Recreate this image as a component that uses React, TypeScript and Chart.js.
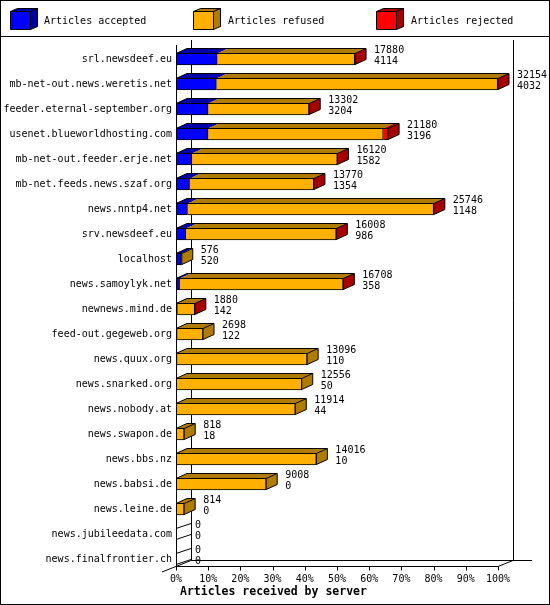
import React, { useEffect, useRef } from "react";
import { Chart, registerables } from "chart.js";

Chart.register(...registerables);

const HOSTS = [
  "srl.newsdeef.eu",
  "mb-net-out.news.weretis.net",
  "feeder.eternal-september.org",
  "usenet.blueworldhosting.com",
  "mb-net-out.feeder.erje.net",
  "mb-net.feeds.news.szaf.org",
  "news.nntp4.net",
  "srv.newsdeef.eu",
  "localhost",
  "news.samoylyk.net",
  "newnews.mind.de",
  "feed-out.gegeweb.org",
  "news.quux.org",
  "news.snarked.org",
  "news.nobody.at",
  "news.swapon.de",
  "news.bbs.nz",
  "news.babsi.de",
  "news.leine.de",
  "news.jubileedata.com",
  "news.finalfrontier.ch",
];

const TOTAL = [17880, 32154, 13302, 21180, 16120, 13770, 25746, 16008, 576, 16708, 1880, 2698, 13096, 12556, 11914, 818, 14016, 9008, 814, 0, 0];
const ACCEPTED = [4114, 4032, 3204, 3196, 1582, 1354, 1148, 986, 520, 358, 142, 122, 110, 50, 44, 18, 10, 0, 0, 0, 0];
const REFUSED = [13734, 28082, 10080, 17494, 14526, 12400, 24574, 15014, 56, 16330, 1732, 2576, 12986, 12506, 11870, 800, 14006, 9008, 814, 0, 0];
const REJECTED = [32, 40, 18, 490, 12, 16, 24, 8, 0, 20, 6, 0, 0, 0, 0, 0, 0, 0, 0, 0, 0];

const SERIES = ["Articles accepted", "Articles refused", "Articles rejected"];
const PCT_TICKS = [0, 10, 20, 30, 40, 50, 60, 70, 80, 90, 100];
const AXIS_TITLE = "Articles received by server";

const FRONT = ["#0000ff", "#ffb000", "#ff0000"];
const DARK = ["#0000a8", "#b07c00", "#a80000"];

const MAX = Math.max(...TOTAL);
const MONO = '"DejaVu Sans Mono", monospace';
const FONT = `10px ${MONO}`;
const DX = 11;
const DY = 5;
const FDX = 15;
const FDY = 6;

function line(ctx: CanvasRenderingContext2D, x1: number, y1: number, x2: number, y2: number) {
  ctx.beginPath();
  ctx.moveTo(x1, y1);
  ctx.lineTo(x2, y2);
  ctx.stroke();
}

function poly(ctx: CanvasRenderingContext2D, pts: number[][], fill: string | null, stroke: boolean) {
  ctx.beginPath();
  ctx.moveTo(pts[0][0], pts[0][1]);
  for (let i = 1; i < pts.length; i++) ctx.lineTo(pts[i][0], pts[i][1]);
  ctx.closePath();
  if (fill) {
    ctx.fillStyle = fill;
    ctx.fill();
  }
  if (stroke) ctx.stroke();
}

const threeD = {
  id: "threeD",
  beforeDraw(chart: any) {
    const ctx: CanvasRenderingContext2D = chart.ctx;
    const w = chart.width;
    const h = chart.height;
    ctx.save();
    ctx.fillStyle = "#ffffff";
    ctx.fillRect(0, 0, w, h);
    ctx.strokeStyle = "#000";
    ctx.lineWidth = 1;
    ctx.strokeRect(0.5, 0.5, w - 1, h - 1);
    line(ctx, 0, 36.5, w, 36.5);
    // legend
    const boxX = [10, 193, 376];
    const textX = [44, 228, 411];
    for (let i = 0; i < 3; i++) {
      const x = boxX[i] + 0.5;
      const y = 11.5;
      const bw = 20;
      const bh = 18;
      poly(ctx, [[x, y], [x + bw, y], [x + bw + 7, y - 3], [x + 7, y - 3]], DARK[i], true);
      poly(ctx, [[x + bw, y], [x + bw + 7, y - 3], [x + bw + 7, y + bh - 3], [x + bw, y + bh]], DARK[i], true);
      poly(ctx, [[x, y], [x + bw, y], [x + bw, y + bh], [x, y + bh]], FRONT[i], true);
      ctx.fillStyle = "#000";
      ctx.font = FONT;
      ctx.textAlign = "left";
      ctx.textBaseline = "middle";
      ctx.fillText(SERIES[i], textX[i], 21);
    }
    ctx.restore();
  },
  beforeDatasetsDraw(chart: any) {
    const ctx: CanvasRenderingContext2D = chart.ctx;
    const area = chart.chartArea;
    const xs = chart.scales.x;
    const x0 = xs.getPixelForValue(0);
    const x100 = xs.getPixelForValue(MAX);
    const frontY = Math.round(area.bottom - 5.5) + 0.5;
    const backY = frontY - FDY;
    const topY = 40;
    ctx.save();
    ctx.strokeStyle = "#000";
    ctx.lineWidth = 1;
    // back walls
    line(ctx, x0 + FDX + 0.5, topY, x0 + FDX + 0.5, backY);
    line(ctx, x100 + FDX + 0.5, topY, x100 + FDX + 0.5, backY);
    line(ctx, x0 + FDX, backY, x100 + FDX + 19, backY);
    // floor
    line(ctx, x0 - 14, frontY + 5.5, x0 + FDX, backY);
    line(ctx, x0, frontY, x100, frontY);
    line(ctx, x100, frontY, x100 + FDX, backY);
    // tick marks
    for (const t of xs.ticks) {
      const px = Math.round(xs.getPixelForValue(t.value)) + 0.5;
      line(ctx, px, frontY, px, frontY + 4);
    }
    // axis title
    ctx.fillStyle = "#000";
    ctx.font = `bold 11.5px ${MONO}`;
    ctx.textAlign = "left";
    ctx.textBaseline = "middle";
    ctx.fillText(AXIS_TITLE, x0 + 4, 592);
    ctx.restore();
  },
  afterDatasetsDraw(chart: any) {
    const ctx: CanvasRenderingContext2D = chart.ctx;
    const area = chart.chartArea;
    const xs = chart.scales.x;
    const x0 = xs.getPixelForValue(0);
    const frontY = Math.round(area.bottom - 5.5) + 0.5;
    const metas = [0, 1, 2].map((i) => chart.getDatasetMeta(i));
    ctx.save();
    ctx.strokeStyle = "#000";
    ctx.lineWidth = 1;
    for (let r = 0; r < HOSTS.length; r++) {
      let lastIdx = -1;
      let firstStart = -1;
      let lastEnd = x0;
      let t = 0;
      let b = 0;
      let cy = 0;
      for (let d = 0; d < 3; d++) {
        const el = metas[d].data[r];
        const p = el.getProps(["x", "y", "base", "height"], true);
        const s = Math.min(p.x, p.base);
        const e = Math.max(p.x, p.base);
        t = p.y - p.height / 2 + 0.5;
        b = p.y + p.height / 2 - 0.5;
        cy = p.y;
        if (e - s <= 0.001) continue;
        if (firstStart < 0) firstStart = s;
        poly(ctx, [[s, t], [e, t], [e + DX, t - DY], [s + DX, t - DY]], DARK[d], false);
        lastIdx = d;
        lastEnd = e;
      }
      if (lastIdx >= 0) {
        // outline of top face
        ctx.beginPath();
        ctx.moveTo(firstStart, t);
        ctx.lineTo(firstStart + DX, t - DY);
        ctx.lineTo(lastEnd + DX, t - DY);
        ctx.stroke();
        line(ctx, firstStart, t, lastEnd, t);
        // side face
        poly(ctx, [[lastEnd, t], [lastEnd + DX, t - DY], [lastEnd + DX, b - DY], [lastEnd, b]], DARK[lastIdx], true);
      } else {
        line(ctx, x0, t, x0 + FDX, t - DY);
        line(ctx, x0, b, x0 + FDX, b - DY);
      }
      const endPx = metas[2].data[r].x;
      ctx.fillStyle = "#000";
      ctx.font = FONT;
      ctx.textAlign = "left";
      ctx.textBaseline = "middle";
      ctx.fillText(String(TOTAL[r]), endPx + DX + 8, cy - 9);
      ctx.fillText(String(ACCEPTED[r]), endPx + DX + 8, cy + 2);
    }
    // front axis
    line(ctx, Math.round(x0) + 0.5, 45, Math.round(x0) + 0.5, frontY);
    ctx.restore();
  },
};

export default function App() {
  const ref = useRef<HTMLCanvasElement | null>(null);
  useEffect(() => {
    if (!ref.current) return;
    const values = [ACCEPTED, REFUSED, REJECTED];
    const chart = new Chart(ref.current, {
      type: "bar",
      data: {
        labels: HOSTS,
        datasets: SERIES.map((label, i) => ({
          label,
          data: values[i],
          backgroundColor: FRONT[i],
          borderColor: "#000",
          borderWidth: 1,
          borderSkipped: "start",
          barThickness: 12,
          stack: "s",
        })),
      },
      options: {
        indexAxis: "y",
        animation: false,
        responsive: false,
        devicePixelRatio: 1,
        layout: { padding: { top: 46.5, left: 0, right: 52, bottom: 0 } },
        plugins: { legend: { display: false }, tooltip: { enabled: false }, title: { display: false } },
        scales: {
          x: {
            stacked: true,
            min: 0,
            max: MAX,
            grid: { display: false, drawTicks: false },
            border: { display: false },
            afterBuildTicks: (s: any) => {
              s.ticks = PCT_TICKS.map((p) => ({ value: (p * MAX) / 100 }));
            },
            afterFit: (s: any) => {
              s.height = 33.5;
            },
            ticks: {
              autoSkip: false,
              maxRotation: 0,
              padding: 2,
              color: "#000",
              font: { family: MONO, size: 10 },
              callback: (_v: any, i: number) => `${PCT_TICKS[i]}%`,
            },
          },
          y: {
            stacked: true,
            grid: { display: false, drawTicks: false },
            border: { display: false },
            afterFit: (s: any) => {
              s.width = 176;
            },
            ticks: {
              autoSkip: false,
              padding: 4,
              color: "#000",
              font: { family: MONO, size: 10 },
            },
          },
        },
      },
      plugins: [threeD],
    } as any);
    return () => chart.destroy();
  }, []);
  return (
    <div style={{ position: "absolute", left: 0, top: 0, width: 550, height: 605 }}>
      <canvas ref={ref} width={550} height={605} style={{ display: "block", width: 550, height: 605 }} />
    </div>
  );
}
